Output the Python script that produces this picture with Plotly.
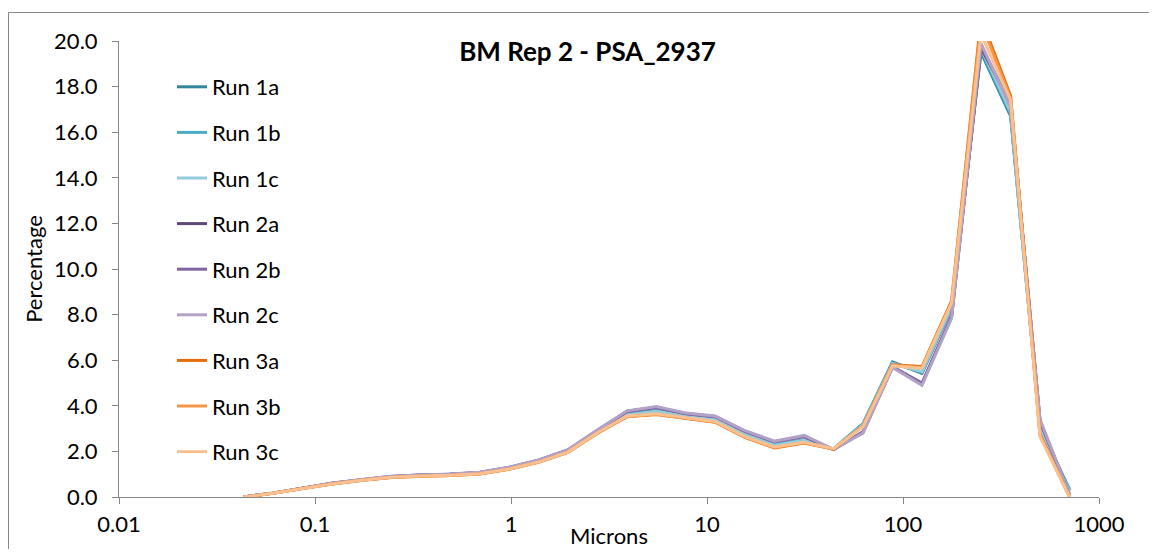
import plotly.graph_objects as go

# particle size bins (microns)
microns = [0.0432, 0.0611, 0.0864, 0.122, 0.173, 0.244, 0.345, 0.488, 0.691, 0.977,
           1.38, 1.95, 2.76, 3.91, 5.52, 7.81, 11.0, 15.6, 22.1, 31.3,
           44.2, 62.5, 88.4, 125, 177, 250, 354, 500, 707]

run_1a = [0.00,0.17,0.38,0.58,0.74,0.88,0.94,0.98,1.05,1.27,1.57,2.01,2.86,3.63,3.79,3.56,3.41,2.76,2.29,2.51,2.11,3.22,5.92,5.42,8.28,19.5,16.7,3.10,0.30]
run_1b = [0.00,0.17,0.38,0.58,0.74,0.88,0.93,0.97,1.05,1.26,1.56,2.00,2.85,3.61,3.77,3.55,3.40,2.75,2.28,2.50,2.10,3.19,5.88,5.48,8.32,19.6,16.8,3.00,0.35]
run_1c = [0.00,0.17,0.37,0.57,0.73,0.87,0.93,0.97,1.04,1.25,1.55,1.99,2.84,3.60,3.76,3.54,3.39,2.74,2.27,2.49,2.10,3.17,5.85,5.50,8.35,19.7,16.9,3.00,0.25]
run_2a = [0.00,0.17,0.39,0.60,0.76,0.90,0.96,1.00,1.08,1.30,1.61,2.06,2.93,3.76,3.94,3.66,3.53,2.89,2.43,2.66,2.08,2.84,5.70,4.95,7.90,19.7,17.3,3.35,0.10]
run_2b = [0.00,0.17,0.39,0.60,0.76,0.90,0.96,1.00,1.08,1.30,1.60,2.05,2.92,3.75,3.92,3.65,3.52,2.88,2.42,2.65,2.08,2.86,5.72,5.00,7.95,19.8,17.2,3.30,0.12]
run_2c = [0.00,0.17,0.39,0.60,0.77,0.91,0.97,1.01,1.09,1.31,1.62,2.07,2.94,3.78,3.97,3.68,3.55,2.91,2.45,2.70,2.09,2.80,5.68,4.90,7.85,19.9,17.1,3.40,0.10]
run_3a = [0.00,0.16,0.37,0.57,0.73,0.86,0.91,0.94,1.01,1.22,1.52,1.96,2.80,3.52,3.62,3.45,3.28,2.62,2.15,2.37,2.10,3.12,5.80,5.72,8.60,21.0,17.6,2.75,0.00]
run_3b = [0.00,0.16,0.37,0.57,0.73,0.86,0.91,0.94,1.01,1.23,1.53,1.96,2.81,3.53,3.63,3.46,3.29,2.63,2.17,2.38,2.11,3.10,5.78,5.68,8.55,20.8,17.5,2.70,0.02]
run_3c = [0.00,0.16,0.37,0.57,0.73,0.87,0.92,0.95,1.02,1.23,1.53,1.97,2.82,3.55,3.65,3.48,3.31,2.65,2.19,2.40,2.12,3.08,5.75,5.65,8.50,20.3,17.4,2.65,0.00]

run_names = ["Run 1a", "Run 1b", "Run 1c", "Run 2a", "Run 2b", "Run 2c", "Run 3a", "Run 3b", "Run 3c"]
run_values = [run_1a, run_1b, run_1c, run_2a, run_2b, run_2c, run_3a, run_3b, run_3c]
run_colors = ["#31859C", "#4BACC6", "#93CDDD", "#5F497A", "#8064A2", "#B3A2C7", "#E46C0A", "#F79646", "#FAC090"]

x_tickvals = [0.01, 0.1, 1, 10, 100, 1000]
x_ticktext = ["0.01", "0.1", "1", "10", "100", "1000"]
y_tickvals = [0, 2, 4, 6, 8, 10, 12, 14, 16, 18, 20]

FONT = "Lato"
FS = 22
OFF = 8                      # page body margin of the html page
W, H = 1157 - 2 * OFF, 557 - 2 * OFF
PL, PR, PT, PB = 119, 1099, 41, 497   # plot area in page pixels
L = PL - OFF
T = PT - OFF
R = W - (PR - OFF)
B = H - (PB - OFF)

fig = go.Figure()
for name, vals, col in zip(run_names, run_values, run_colors):
    fig.add_trace(go.Scatter(x=microns, y=vals, mode="lines", name=name,
                             legendgroup=name,
                             line=dict(color=col, width=3)))

def px_x(p):
    return (p - PL) / (PR - PL)

def px_y(p):
    return (PB - p) / (PB - PT)

fig.update_layout(
    width=W, height=H,
    margin=dict(l=L, r=R, t=T, b=B, autoexpand=False),
    paper_bgcolor="white", plot_bgcolor="white",
    font=dict(family=FONT, size=FS, color="#000000"),
    title=dict(text="<b>BM Rep 2 - PSA_2937</b>", x=(587.5 - OFF) / W, xanchor="center",
               xref="container",
               y=1 - (52 - OFF) / H, yanchor="middle", yref="container",
               font=dict(family=FONT, size=26, color="#000000")),
    showlegend=True,
    legend=dict(x=px_x(172), y=px_y(66), xanchor="left", yanchor="top",
                bgcolor="rgba(0,0,0,0)", font=dict(family=FONT, size=FS),
                tracegroupgap=14, itemwidth=30),
    xaxis=dict(type="log", range=[-2, 3], tickvals=x_tickvals, ticktext=x_ticktext,
               showgrid=False, zeroline=False, showline=True, linecolor="#868686",
               linewidth=1, ticks="outside", ticklen=6, tickcolor="#868686",
               automargin=False, ticklabelstandoff=2,
               tickfont=dict(family=FONT, size=FS),
               title=dict(text="Microns", font=dict(family=FONT, size=FS), standoff=7)),
    yaxis=dict(range=[0, 20], tickvals=y_tickvals, tickformat=".1f",
               showgrid=False, zeroline=False, showline=True, linecolor="#868686",
               linewidth=1, ticks="outside", ticklen=6, tickcolor="#868686",
               automargin=False, ticklabelstandoff=10,
               tickfont=dict(family=FONT, size=FS),
               title=dict(text="Percentage", font=dict(family=FONT, size=FS), standoff=5)),
)

# outer chart border
fig.add_shape(type="rect", xref="paper", yref="paper",
              x0=px_x(8.5), x1=px_x(1175), y0=px_y(575), y1=px_y(12.5),
              line=dict(color="#868686", width=1), fillcolor="rgba(0,0,0,0)",
              layer="below")

fig.write_html("out.html")
